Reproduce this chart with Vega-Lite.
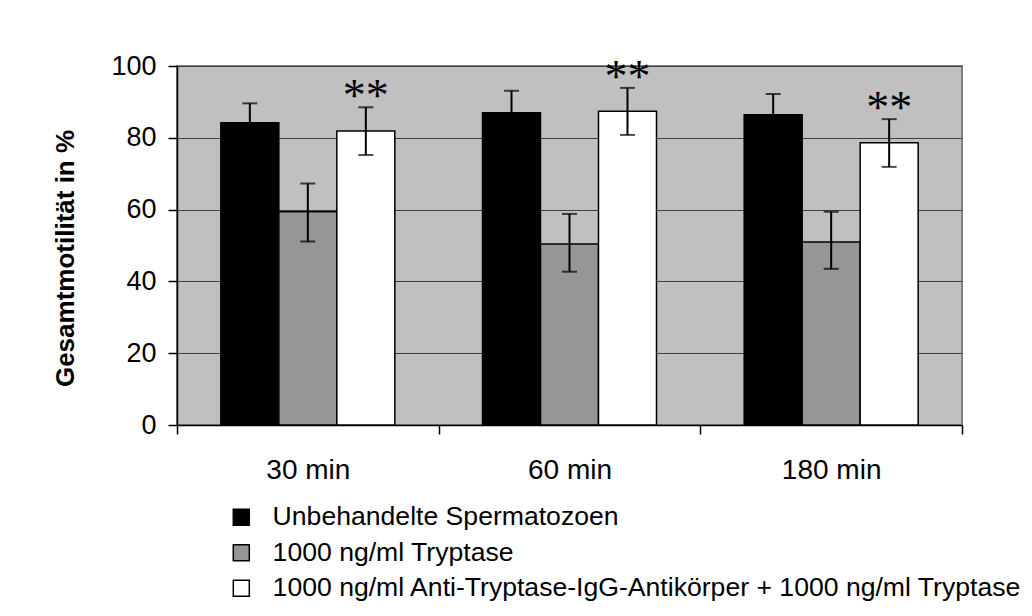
{
  "$schema": "https://vega.github.io/schema/vega-lite/v6.json",
  "width": 785,
  "height": 359,
  "autosize": {"type": "none"},
  "padding": {"left": 177, "top": 66, "right": 70, "bottom": 191},
  "background": "white",
  "config": {
    "font": "Liberation Sans",
    "view": {"fill": "#c0c0c0", "stroke": "#808080", "strokeWidth": 2},
    "axis": {"labelFont": "Liberation Sans", "labelColor": "black", "titleColor": "black"}
  },
  "data": {
    "values": [
      {"time": "30 min", "group": "Unbehandelte Spermatozoen", "value": 84.2, "low": 78.8, "high": 89.6, "sig": ""},
      {"time": "30 min", "group": "1000 ng/ml Tryptase", "value": 59.4, "low": 51.1, "high": 67.3, "sig": ""},
      {"time": "30 min", "group": "1000 ng/ml Anti-Tryptase-IgG-Antikörper + 1000 ng/ml Tryptase", "value": 81.9, "low": 75.2, "high": 88.5, "sig": "**"},
      {"time": "60 min", "group": "Unbehandelte Spermatozoen", "value": 87.0, "low": 80.9, "high": 93.1, "sig": ""},
      {"time": "60 min", "group": "1000 ng/ml Tryptase", "value": 50.4, "low": 42.7, "high": 58.8, "sig": ""},
      {"time": "60 min", "group": "1000 ng/ml Anti-Tryptase-IgG-Antikörper + 1000 ng/ml Tryptase", "value": 87.4, "low": 80.8, "high": 93.9, "sig": "**"},
      {"time": "180 min", "group": "Unbehandelte Spermatozoen", "value": 86.4, "low": 80.6, "high": 92.2, "sig": ""},
      {"time": "180 min", "group": "1000 ng/ml Tryptase", "value": 51.0, "low": 43.5, "high": 59.4, "sig": ""},
      {"time": "180 min", "group": "1000 ng/ml Anti-Tryptase-IgG-Antikörper + 1000 ng/ml Tryptase", "value": 78.6, "low": 71.9, "high": 85.2, "sig": "**"}
    ]
  },
  "encoding": {
    "x": {
      "field": "time", "type": "nominal", "sort": ["30 min", "60 min", "180 min"],
      "scale": {"paddingInner": 0, "paddingOuter": 0},
      "axis": {
        "title": null, "labelAngle": 0, "labelFontSize": 28, "labelPadding": 22,
        "tickBand": "extent", "tickSize": 9, "tickColor": "black", "tickWidth": 1.5,
        "domainColor": "black", "domainWidth": 1.5, "grid": false
      }
    },
    "xOffset": {
      "field": "group", "type": "nominal",
      "sort": ["Unbehandelte Spermatozoen", "1000 ng/ml Tryptase", "1000 ng/ml Anti-Tryptase-IgG-Antikörper + 1000 ng/ml Tryptase"],
      "scale": {"paddingInner": 0, "paddingOuter": 0.756}
    }
  },
  "layer": [
    {
      "mark": {"type": "bar", "stroke": "black", "strokeWidth": 1.5},
      "encoding": {
        "y": {
          "field": "value", "type": "quantitative",
          "scale": {"domain": [0, 100], "nice": false},
          "axis": {
            "title": "Gesamtmotilität in %", "titleFontSize": 26, "titleFontWeight": "bold", "titlePadding": 32,
            "titleY": 192, "titleAlign": "center",
            "values": [0, 20, 40, 60, 80, 100], "labelFontSize": 27, "labelPadding": 12,
            "tickSize": 9, "tickColor": "black", "tickWidth": 1.5,
            "domainColor": "black", "domainWidth": 1.5,
            "grid": true, "gridColor": "#404040", "gridWidth": 1.2
          }
        },
        "color": {
          "field": "group", "type": "nominal",
          "sort": ["Unbehandelte Spermatozoen", "1000 ng/ml Tryptase", "1000 ng/ml Anti-Tryptase-IgG-Antikörper + 1000 ng/ml Tryptase"],
          "scale": {"range": ["#000000", "#969696", "#ffffff"]},
          "legend": {
            "title": null, "orient": "none", "legendX": 51, "legendY": 438, "direction": "vertical",
            "symbolType": "square", "symbolSize": 256, "symbolStrokeColor": "black", "symbolStrokeWidth": 1.5,
            "labelFontSize": 26.6, "labelColor": "black", "labelOffset": 18, "rowPadding": 8.5, "padding": 0, "labelLimit": 900
          }
        }
      }
    },
    {
      "mark": {"type": "rule", "color": "black", "strokeWidth": 2},
      "encoding": {
        "y": {"field": "low", "type": "quantitative"},
        "y2": {"field": "high"}
      }
    },
    {
      "mark": {"type": "tick", "color": "black", "thickness": 2, "size": 15, "orient": "horizontal"},
      "encoding": {"y": {"field": "low", "type": "quantitative"}}
    },
    {
      "mark": {"type": "tick", "color": "black", "thickness": 2, "size": 15, "orient": "horizontal"},
      "encoding": {"y": {"field": "high", "type": "quantitative"}}
    },
    {
      "transform": [{"filter": "datum.sig != ''"}],
      "mark": {"type": "text", "font": "Liberation Serif", "fontSize": 46, "color": "black", "baseline": "alphabetic", "align": "center", "dy": 4},
      "encoding": {
        "y": {"field": "high", "type": "quantitative"},
        "text": {"field": "sig"}
      }
    }
  ]
}
